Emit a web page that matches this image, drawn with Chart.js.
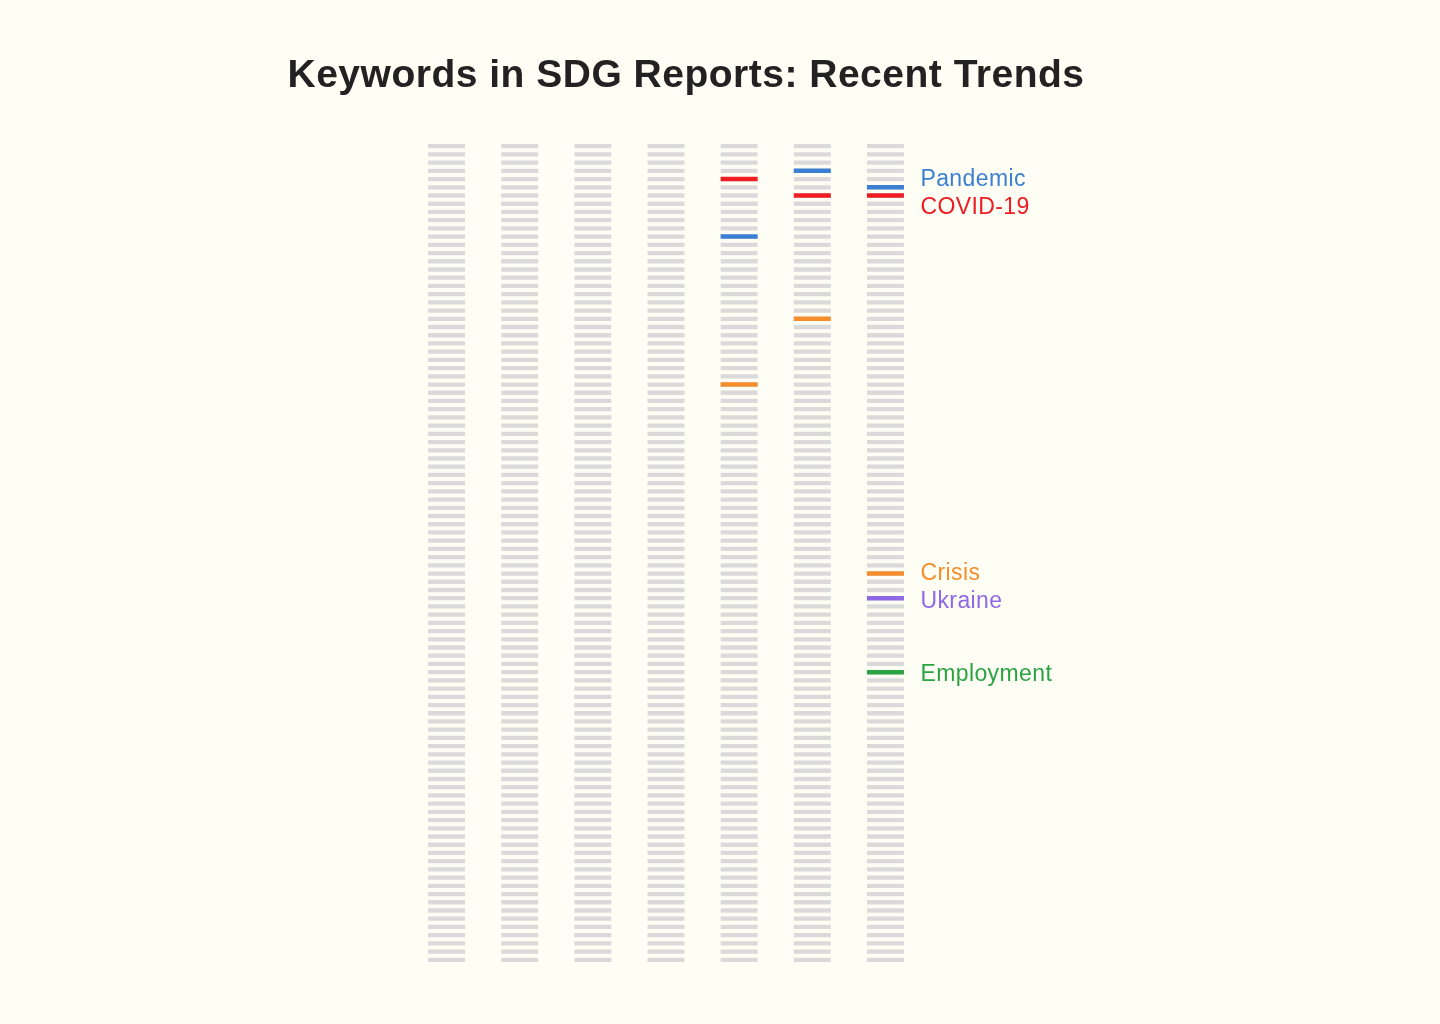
<!DOCTYPE html>
<html>
<head>
<meta charset="utf-8">
<script src="https://cdn.jsdelivr.net/npm/chart.js@4"></script>
<style>
    html, body { margin: 0; padding: 0; background: #fffef5; }
    #wrap { width: 1440px; height: 1024px; }
</style>
</head>
<body>
<div id="wrap"><canvas id="rank-chart"></canvas></div>
<script>
// one column per report (left = oldest)
const reports = ["R1", "R2", "R3", "R4", "R5", "R6", "R7"];
const rankCount = 100;

// rank of each keyword in each report (null = not in the list)
const keywords = ["Pandemic", "COVID-19", "Crisis", "Ukraine", "Employment"];
const pandemicRanks = [null, null, null, null, 12, 4, 6];
const covidRanks = [null, null, null, null, 5, 7, 7];
const crisisRanks = [null, null, null, null, 30, 22, 53];
const ukraineRanks = [null, null, null, null, null, null, 56];
const employmentRanks = [null, null, null, null, null, null, 65];

const keywordColors = ["#3b7fd3", "#ee1c23", "#f58d2c", "#9068e6", "#2aa443"];
const GREY = "#dadada";

document.addEventListener("DOMContentLoaded", () => {
    const rankLists = [pandemicRanks, covidRanks, crisisRanks, ukraineRanks, employmentRanks];

    // background slots: every rank of every report
    const slots = [];
    reports.forEach((r, i) => {
        for (let k = 1; k <= rankCount; k++) slots.push({ x: i, y: k });
    });

    const keywordSets = keywords.map((name, j) => ({
        label: name,
        data: rankLists[j]
            .map((rank, i) => (rank == null ? null : { x: i, y: rank }))
            .filter((p) => p),
        borderColor: keywordColors[j],
        backgroundColor: keywordColors[j],
        borderWidth: 4.5,
        order: 1,
    }));

    const titlePlugin = {
        id: "titleText",
        afterDraw(chart) {
            const ctx = chart.ctx;
            ctx.save();
            ctx.fillStyle = "#222222";
            ctx.font = "bold 39px 'Liberation Sans', Arial, sans-serif";
            ctx.letterSpacing = "0.5px";
            ctx.textAlign = "center";
            ctx.textBaseline = "middle";
            ctx.fillText("Keywords in SDG Reports: Recent Trends", 686, 76);
            ctx.restore();
        },
    };

    // keyword names next to the last column, pushed apart when they crowd
    const endLabels = {
        id: "endLabels",
        afterDatasetsDraw(chart) {
            const items = [];
            chart.data.datasets.forEach((ds, d) => {
                if (ds.order !== 1) return;
                const meta = chart.getDatasetMeta(d);
                const last = meta.data[meta.data.length - 1];
                items.push({ text: ds.label, color: ds.borderColor, x: last.x, y: last.y });
            });
            items.sort((a, b) => a.y - b.y);
            const gap = 28;
            for (let pass = 0; pass < 20; pass++) {
                for (let i = 1; i < items.length; i++) {
                    const diff = items[i].y - items[i - 1].y;
                    if (diff < gap) {
                        const push = (gap - diff) / 2;
                        items[i - 1].y -= push;
                        items[i].y += push;
                    }
                }
            }
            const ctx = chart.ctx;
            ctx.save();
            ctx.font = "23px 'Liberation Sans', Arial, sans-serif";
            ctx.letterSpacing = "0.4px";
            ctx.textBaseline = "middle";
            items.forEach((it) => {
                ctx.fillStyle = it.color;
                ctx.fillText(it.text, it.x + 35, it.y + 2);
            });
            ctx.restore();
        },
    };

    new Chart(document.getElementById("rank-chart").getContext("2d"), {
        type: "scatter",
        data: {
            datasets: [
                ...keywordSets,
                {
                    label: "all",
                    data: slots,
                    borderColor: GREY,
                    backgroundColor: GREY,
                    borderWidth: 4.3,
                    order: 10,
                },
            ],
        },
        options: {
            responsive: true,
            maintainAspectRatio: false,
            animation: false,
            events: [],
            layout: { padding: { top: 138, bottom: 56, left: 410, right: 518 } },
            elements: {
                point: { pointStyle: "line", radius: 18.5, hoverRadius: 18.5 },
            },
            scales: {
                x: { type: "linear", min: -0.5, max: 6.5, display: false },
                y: { type: "linear", min: 0, max: rankCount + 1, reverse: true, display: false },
            },
            plugins: {
                legend: { display: false },
                tooltip: { enabled: false },
                title: { display: false },
            },
        },
        plugins: [titlePlugin, endLabels],
    });
});
</script>
</body>
</html>
